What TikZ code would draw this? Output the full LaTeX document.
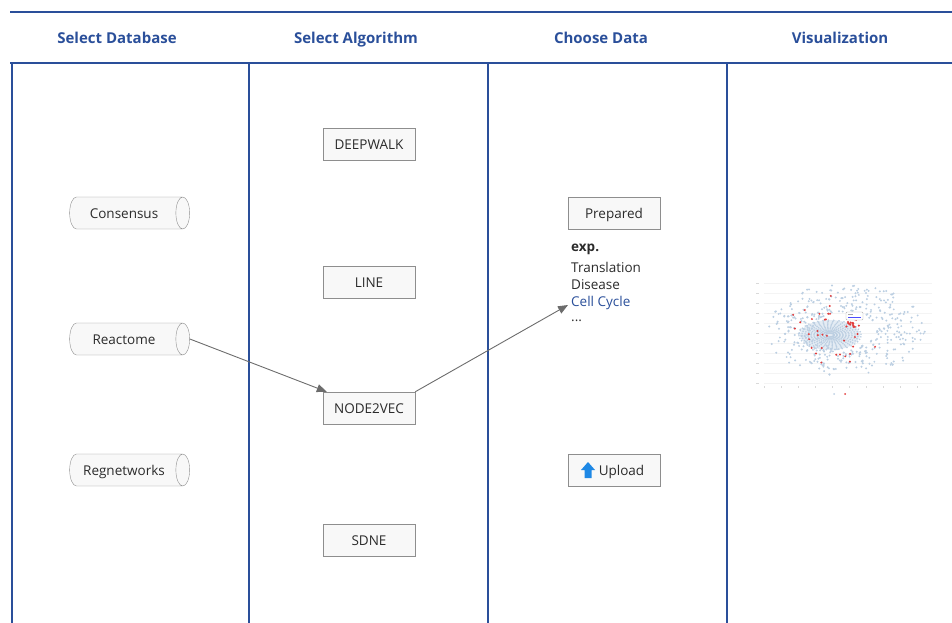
\documentclass[tikz,border=0pt]{standalone}
\usepackage{fontspec}
\setmainfont{Open Sans}
\usepackage{tikz}
\usetikzlibrary{shapes.geometric}
\usetikzlibrary{positioning}
\usetikzlibrary{arrows.meta}
\definecolor{laneblue}{HTML}{2A4F9A}
\definecolor{inkgray}{HTML}{2B2B2B}
\definecolor{boxfill}{HTML}{F8F8F8}
\definecolor{boxline}{HTML}{8E8E8E}
\definecolor{dotblue}{HTML}{BCCFE2}
\definecolor{dotred}{HTML}{E23B3B}
\definecolor{iconblue}{HTML}{1E88E5}
\tikzstyle{lane} = [draw=laneblue, line width=2.2pt]
\tikzstyle{header} = [anchor=base, text=laneblue, font=\fontsize{15}{18}\selectfont\bfseries]
\tikzstyle{algo} = [rectangle, minimum width=92pt, minimum height=32pt, text height=11.5pt, text depth=1.5pt, text centered, draw=boxline, fill=boxfill, text=inkgray, font=\fontsize{13.5}{16}\selectfont]
\tikzstyle{db} = [cylinder, shape aspect=0.7, minimum width=32pt, minimum height=120pt, text height=11.5pt, text depth=1.5pt, text centered, draw=boxline, fill=boxfill, text=inkgray, font=\fontsize{13.5}{16}\selectfont]
\tikzstyle{item} = [anchor=west, inner sep=0pt, text=inkgray, font=\fontsize{13.5}{16}\selectfont]
\tikzstyle{arrow} = [draw=gray!85!black, line width=0.9pt, -{Triangle[length=10pt,width=8pt]}]

\begin{document}
\begin{tikzpicture}[x=1pt, y=-1pt]
        \useasboundingbox (0,0) rectangle (952,623);

        % swimlane frame
        \draw [lane] (10,12) -- (952,12);
        \draw [lane] (10,63) -- (952,63);
        \foreach \lx in {12,249,488,727}
            \draw [lane] (\lx,63) -- (\lx,623);

        \node (hdDb) [header] at (117,44) {Select Database};
        \node (hdAlgo) [header] at (356,44) {Select Algorithm};
        \node (hdData) [header] at (601,44) {Choose Data};
        \node (hdVis) [header] at (840,44) {Visualization};

        % databases
        \node (consensus) [db] at (124,213) {Consensus};
        \node (reactome) [db] at (124,339) {Reactome};
        \node (regnet) [db] at (124,470) {Regnetworks};

        % algorithms
        \node (deepwalk) [algo] at (369,144) {DEEPWALK};
        \node (line) [algo] at (369,282) {LINE};
        \node (node2vec) [algo] at (369,408) {NODE2VEC};
        \node (sdne) [algo] at (369,540) {SDNE};

        % data
        \node (prepared) [algo] at (614,213) {Prepared};
        \node (exp) [item, font=\fontsize{13.5}{16}\selectfont\bfseries] at (571,249) {exp.};
        \node (translation) [item] at (571,267) {Translation};
        \node (disease) [item] at (571,285) {Disease};
        \node (cellcycle) [item, text=laneblue] at (571,303) {Cell Cycle};
        \node (more) [item] at (571,321) {...};
        \node (upload) [algo] at (614,470) {\hspace*{15pt}Upload};
        \fill [iconblue] (581,470) -- (588,462) -- (595,470) -- (591.5,470) -- (591.5,478) -- (584.5,478) -- (584.5,470) -- cycle;

        \draw [arrow] (reactome.east) -- ([xshift=4pt]node2vec.north west);
        \draw [arrow] (node2vec.north east) -- ([xshift=-3pt,yshift=-2pt]cellcycle.west);

        % embedding scatter
        \begin{scope}
            \foreach \gy in {283,293,...,383}
                \draw [gray!9, line width=0.3pt] (764,\gy) -- (932,\gy);
            \foreach \gy in {283,293,...,383}
                \draw [gray!30, line width=0.5pt] (756,\gy) -- (759,\gy);
            \foreach \gx in {764,781,...,932}
                \draw [gray!30, line width=0.5pt] (\gx,386) -- (\gx,388);
            \fill [dotblue!40] (830,335) ellipse (30 and 15);
            \foreach \rr in {4,7,...,31}
                \foreach \ang in {0,10,...,350}
                    \fill [dotblue] ({830+\rr*cos(\ang+\rr*7)},{335+0.48*\rr*sin(\ang+\rr*7)}) circle (0.9pt);
            \pgfmathsetseed{11}
            \foreach \k in {1,...,420} {
                \pgfmathsetmacro{\ang}{360*rnd}
                \pgfmathsetmacro{\rad}{0.4+0.6*rnd}
                \fill [dotblue] ({845+80*\rad*cos(\ang)},{330+46*\rad*sin(\ang)}) circle (1.1pt);
            }
            \foreach \k in {1,...,35} {
                \pgfmathsetmacro{\ang}{360*rnd}
                \pgfmathsetmacro{\rad}{0.25+0.7*rnd}
                \fill [dotred] ({840+62*\rad*cos(\ang)},{330+40*\rad*sin(\ang)}) circle (1.1pt);
            }
            \foreach \k in {1,...,14}
                \fill [dotred] ({853+7*rand},{323+4*rand}) circle (1.2pt);
            \draw [gray!60, fill=white, rounded corners=1pt, line width=0.4pt] (846,312) rectangle (863,320);
            \draw [blue!70, line width=0.5pt] (848,317.5) -- (861,317.5);
            \draw [gray!70, line width=0.5pt] (848,314.5) -- (853,314.5);
            \fill [dotblue] (834,394) circle (1pt);
            \fill [dotred] (845,394) circle (1pt);
        \end{scope}
    \end{tikzpicture}
\end{document}
